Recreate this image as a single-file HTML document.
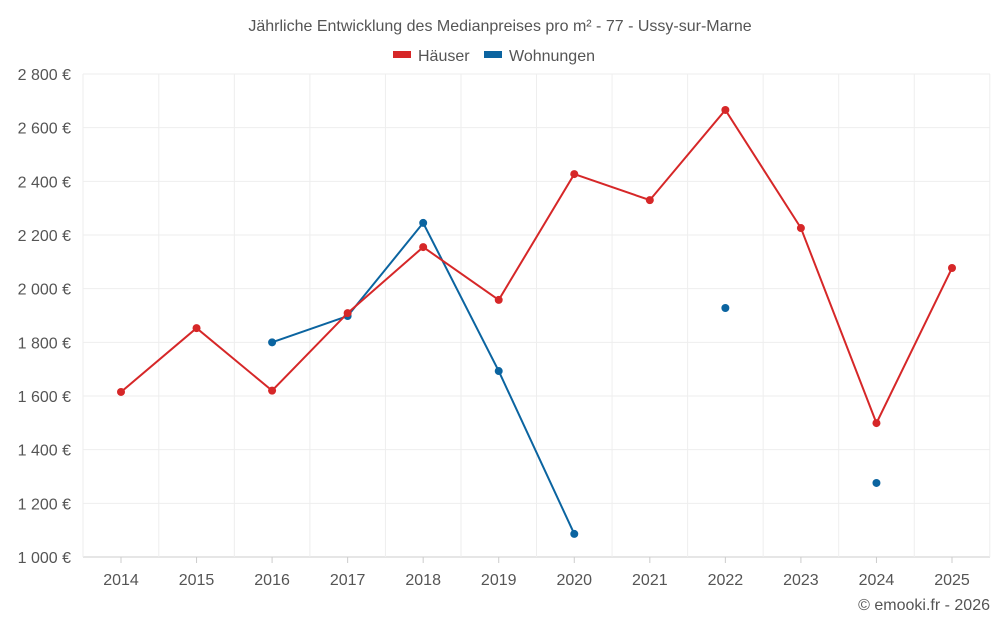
<!DOCTYPE html>
<html><head><meta charset="utf-8">
<style>
body{margin:0;background:#fff;font-family:"Liberation Sans",sans-serif;}
svg text{font-family:"Liberation Sans",sans-serif;}
</style></head>
<body>
<svg id="chart" width="1000" height="625" xmlns="http://www.w3.org/2000/svg">
<text x="500" y="31" text-anchor="middle" font-size="16" fill="#555">Jährliche Entwicklung des Medianpreises pro m² - 77 - Ussy-sur-Marne</text>
<g><rect x="393" y="51" width="18" height="7" fill="#d62728"/><text x="418" y="61" font-size="16" fill="#555">Häuser</text></g>
<g><rect x="484" y="51" width="18" height="7" fill="#0b64a0"/><text x="509" y="61" font-size="16" fill="#555">Wohnungen</text></g>
<g id="grid"></g><g id="axes"></g><g id="series"></g>
<text x="990" y="610" text-anchor="end" font-size="16" fill="#555">© emooki.fr - 2026</text>
</svg>
<script>
const years=[2014,2015,2016,2017,2018,2019,2020,2021,2022,2023,2024,2025];
const haeuser=[1615,1853,1620,1909,2155,1958,2427,2330,2666,2226,1499,2077];
const wohnungen=[null,null,1800,1898,2245,1693,1086,null,1928,null,1276,null];
const yTicks=[1000,1200,1400,1600,1800,2000,2200,2400,2600,2800];
const yTickLabels=["1 000 €","1 200 €","1 400 €","1 600 €","1 800 €","2 000 €","2 200 €","2 400 €","2 600 €","2 800 €"];
const NS="http://www.w3.org/2000/svg";
const L=83,R=990,T=74,B=557;
const xs=i=>121+i*(952-121)/11;
const ys=v=>B-(v-1000)/1800*(B-T);
function mk(t,a,p){const e=document.createElementNS(NS,t);for(const k in a)e.setAttribute(k,a[k]);p.appendChild(e);return e;}
const grid=document.getElementById('grid'),axes=document.getElementById('axes'),ser=document.getElementById('series');
yTicks.forEach((v,i)=>{
 const l=mk('line',{x1:L,x2:R,y1:ys(v),y2:ys(v),stroke:i==0?'#ccc':'#eee'},grid);
 
 
 const t=mk('text',{x:71,y:ys(v)+6,'text-anchor':'end','font-size':16,fill:'#555'},axes);
 t.textContent=yTickLabels[i];
 
 
});
mk('line',{x1:L,x2:L,y1:T,y2:B,stroke:'#eee'},grid);
years.forEach((y,i)=>{
 const x=xs(i)+37.8;
 const l=mk('line',{x1:x,x2:x,y1:T,y2:B,stroke:'#eee'},grid);
 
 
 const tk=mk('line',{x1:xs(i),x2:xs(i),y1:B,y2:B+6,stroke:'#ccc'},axes);
 
 
 const t=mk('text',{x:xs(i),y:585,'text-anchor':'middle','font-size':16,fill:'#555'},axes);
 t.textContent=y;
 
 
});
function draw(vals,color,name){
 let segs=[],cur=[];
 vals.forEach((v,i)=>{if(v==null){if(cur.length)segs.push(cur);cur=[];}else cur.push([xs(i),ys(v)]);});
 if(cur.length)segs.push(cur);
 segs.forEach(s=>{if(s.length>1){const p=mk('polyline',{points:s.map(q=>q.join(',')).join(' '),fill:'none',stroke:color,'stroke-width':2},ser);
  
  }});
 vals.forEach((v,i)=>{if(v==null)return;const c=mk('circle',{cx:xs(i),cy:ys(v),r:4,fill:color},ser);
  
  });
}
draw(wohnungen,'#0b64a0','wohnungen');
draw(haeuser,'#d62728','haeuser');
</script>
</body></html>
